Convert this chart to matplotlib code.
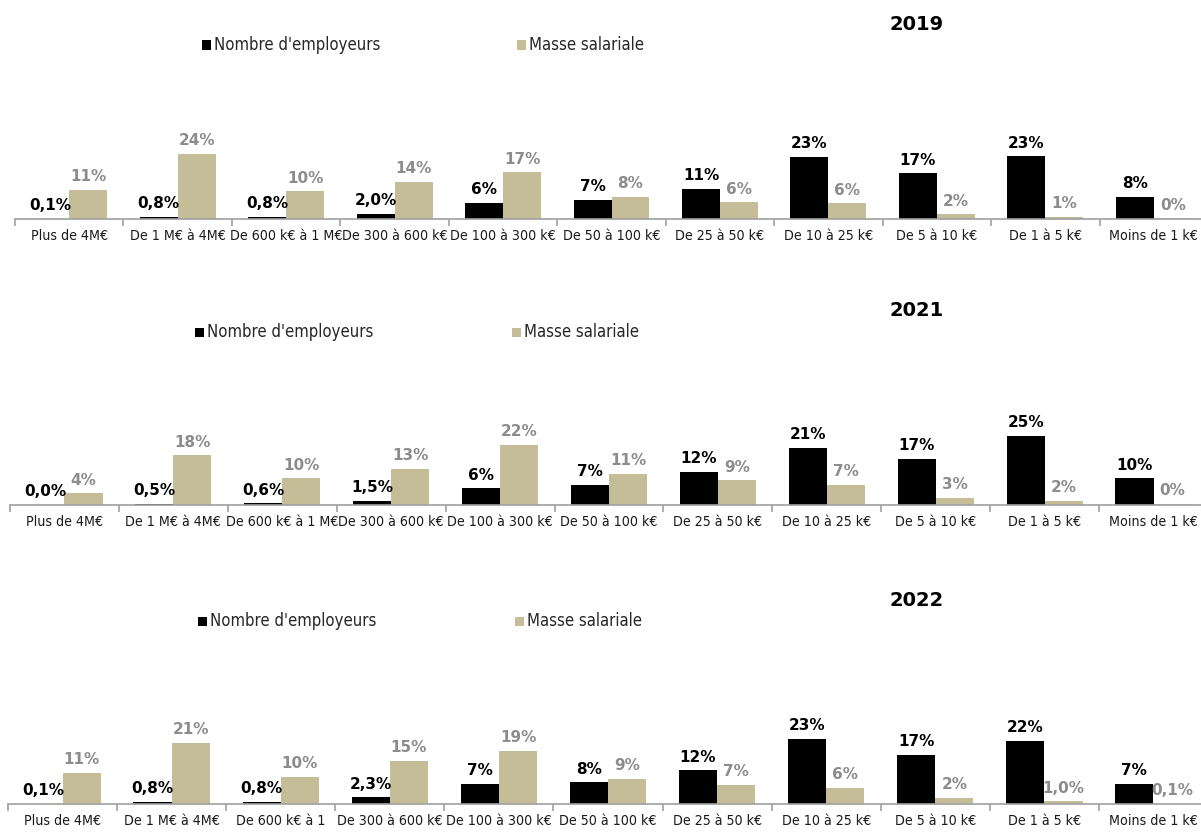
#!/usr/bin/env python3
"""Répartition des employeurs et de la masse salariale par tranche (2019, 2021, 2022)."""

import matplotlib

matplotlib.use("Agg")
import matplotlib.pyplot as plt
import numpy as np
from matplotlib import font_manager as fm
from matplotlib.patches import Rectangle

W, H = 1201, 833

CATS = ["Plus de 4M€", "De 1 M€ à 4M€", "De 600 k€ à 1 M€", "De 300 à 600 k€",
        "De 100 à 300 k€", "De 50 à 100 k€", "De 25 à 50 k€", "De 10 à 25 k€",
        "De 5 à 10 k€", "De 1 à 5 k€", "Moins de 1 k€"]
CATS_2022 = CATS[:2] + ["De 600 k€ à 1"] + CATS[3:]

YEARS = ["2019", "2021", "2022"]

emp_2019 = [0.1, 0.8, 0.8, 2.0, 5.9, 7.0, 11.1, 22.9, 16.8, 23.2, 8.2]
mas_2019 = [10.8, 24.1, 10.3, 13.8, 17.2, 8.1, 6.2, 5.8, 1.8, 0.8, 0.2]
emp_2021 = [0.0, 0.5, 0.6, 1.5, 6.1, 7.4, 11.9, 20.6, 16.6, 24.9, 9.7]
mas_2021 = [4.3, 18.0, 9.7, 13.0, 21.7, 11.2, 9.0, 7.4, 2.6, 1.6, 0.4]
emp_2022 = [0.1, 0.8, 0.8, 2.3, 7.0, 7.6, 11.9, 22.8, 17.2, 22.1, 7.0]
mas_2022 = [10.9, 21.4, 9.6, 15.1, 18.6, 8.8, 6.7, 5.6, 2.1, 1.0, 0.1]

# décimales affichées dans les étiquettes
emp_dec = [1, 1, 1, 1, 0, 0, 0, 0, 0, 0, 0]
mas_dec = [0] * 11
mas_dec_2022 = [0] * 9 + [1, 1]

BLACK = "#000000"
TAN = "#c4bd97"
GREY_LBL = "#8c8c8c"
AXIS = "#a0a0a0"


def pick_narrow():
    # police étroite façon Tahoma si dispo, sinon Liberation Sans
    for fam, stretch in (("Liberation Sans Narrow", "normal"), ("DejaVu Sans", "condensed")):
        try:
            path = fm.findfont(fm.FontProperties(family=fam, stretch=stretch), fallback_to_default=False)
        except ValueError:
            continue
        if "Narrow" in path or "Condensed" in path:
            return dict(family=fam, stretch=stretch), 1.0
    return dict(family="Liberation Sans", stretch="normal"), 0.9


NARROW, SCALE = pick_narrow()


def fmt(v, d):
    return f"{v:.{d}f}%".replace(".", ",")


def fx(x):
    return x / W


def fy(y):
    return 1 - y / H


def panel(fig, year, cats, emp, mas, mdec, base, ppp, left, title_y, leg_y, leg_x):
    ymax = 30
    top = base - ymax * ppp
    right = 1208
    ax = fig.add_axes([fx(left), fy(base), (right - left) / W, (base - top) / H])
    x = np.arange(len(cats))
    w = 0.35
    ax.bar(x - w / 2, emp, w, color=BLACK)
    ax.bar(x + w / 2, mas, w, color=TAN)
    for xi, v, d in zip(x, emp, emp_dec):
        ax.annotate(fmt(v, d), (xi - w / 2, v), xytext=(0, 4), textcoords="offset points",
                    ha="center", va="bottom", fontsize=11, fontweight="bold", color=BLACK)
    for xi, v, d in zip(x, mas, mdec):
        ax.annotate(fmt(v, d), (xi + w / 2, v), xytext=(0, 4), textcoords="offset points",
                    ha="center", va="bottom", fontsize=11, fontweight="bold", color=GREY_LBL)

    ax.set_xlim(-0.5, len(cats) - 0.5)
    ax.set_ylim(0, ymax)
    for s in ("top", "right", "left"):
        ax.spines[s].set_visible(False)
    ax.spines["bottom"].set_color(AXIS)
    ax.spines["bottom"].set_linewidth(1.2)
    ax.set_yticks([])
    ax.set_xticks(x)
    ax.set_xticklabels(cats, fontsize=10.2 * SCALE, color="#1a1a1a", **NARROW)
    ax.set_xticks(np.arange(-0.5, len(cats)), minor=True)
    ax.tick_params(axis="x", which="major", length=0, pad=7)
    ax.tick_params(axis="x", which="minor", length=5, color=AXIS, width=1.2)
    ax.patch.set_alpha(0)

    fig.text(fx(917), fy(title_y), year, ha="center", va="center",
             fontsize=14, fontweight="bold", color="#000000")

    # légende
    sq = 9
    for lx, col, txt in zip(leg_x, (BLACK, TAN), ("Nombre d'employeurs", "Masse salariale")):
        fig.add_artist(Rectangle((fx(lx), fy(leg_y + sq / 2)), sq / W, sq / H,
                                 transform=fig.transFigure, color=col, lw=0))
        fig.text(fx(lx + sq + 3), fy(leg_y), txt, ha="left", va="center",
                 fontsize=12 * SCALE, color="#262626", **NARROW)


def main() -> None:
    fig = plt.figure(figsize=(W / 100, H / 100), dpi=100)
    fig.patch.set_facecolor("white")

    panel(fig, YEARS[0], CATS, emp_2019, mas_2019, mas_dec, 219, 2.71, 15, 25, 45, (202, 517))
    panel(fig, YEARS[1], CATS, emp_2021, mas_2021, mas_dec, 505, 2.77, 10, 311, 332, (195, 512))
    panel(fig, YEARS[2], CATS_2022, emp_2022, mas_2022, mas_dec_2022, 804, 2.85, 8, 600, 621, (198, 515))

    fig.savefig("out.png", dpi=100, facecolor="white")
    plt.close(fig)


if __name__ == "__main__":
    main()
